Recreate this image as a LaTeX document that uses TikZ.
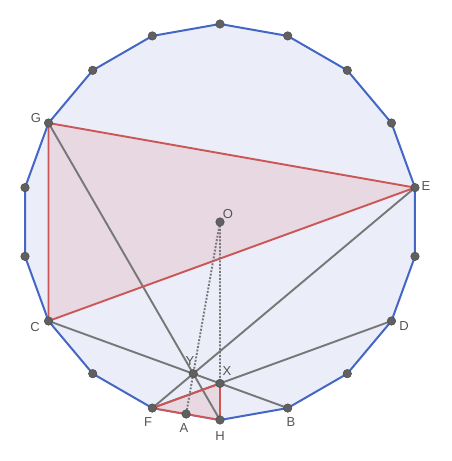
\documentclass[tikz,border=0pt]{standalone}
\usepackage{fontspec}
\setmainfont{Liberation Sans}
\usetikzlibrary{calc,intersections}
\definecolor{polyfill}{HTML}{EBEDF8}
\definecolor{polyedge}{HTML}{4466C4}
\definecolor{redline}{HTML}{CC5555}
\definecolor{redfill}{HTML}{E8D8E2}
\definecolor{grayline}{HTML}{777777}
\definecolor{ptfill}{HTML}{606060}
\definecolor{lbl}{HTML}{555555}
\tikzset{
  pt/.style={circle,fill=ptfill,draw=black!70,line width=0.5pt,inner sep=0pt,minimum size=8.5pt},
  lab/.style={text=lbl,font=\fontsize{13}{15}\selectfont,inner sep=0pt},
  edge/.style={draw=polyedge,line width=2pt,line join=round},
  redside/.style={draw=redline,line width=1.9pt,line join=round},
  grayseg/.style={draw=grayline,line width=1.9pt},
  dotseg/.style={draw=grayline,line width=1.9pt,dash pattern=on 1.9pt off 1.6pt}
}
\begin{document}
\begin{tikzpicture}[x=1pt,y=1pt]
\useasboundingbox (0,0) rectangle (451,461);
\coordinate (O) at (220,239);
\foreach \k in {0,...,17}{
  \coordinate (P\k) at ($(O)+({90+20*\k}:198)$);
}
% named vertices
\coordinate (G) at (P3);
\coordinate (C) at (P6);
\coordinate (F) at (P8);
\coordinate (H) at (P9);
\coordinate (B) at (P10);
\coordinate (D) at (P12);
\coordinate (E) at (P14);
\coordinate (A) at ($(F)!0.5!(H)$);
\coordinate (X) at (intersection of F--D and O--H);
\coordinate (Y) at (intersection of G--H and C--B);
% polygon
\path[fill=polyfill] (P0) \foreach \k in {1,...,17}{ -- (P\k)} -- cycle;
\path[edge] (P0) \foreach \k in {1,...,17}{ -- (P\k)} -- cycle;
% red triangles
\path[fill=redfill] (G) -- (E) -- (C) -- cycle;
\path[fill=redfill] (F) -- (X) -- (H) -- cycle;
% gray lines
\path[grayseg] (G) -- (H);
\path[grayseg] (C) -- (B);
\path[grayseg] (F) -- (E);
\path[grayseg] (F) -- (D);
% red sides
\path[redside] (G) -- (E) -- (C) -- cycle;
\path[redside] (F) -- (X) -- (H) -- cycle;
% dotted
\path[dotseg] (O) -- (A);
\path[dotseg] (O) -- (X);
% points
\foreach \k in {0,...,17}{ \node[pt] (V\k) at (P\k) {}; }
\node[pt] (nO) at (O) {};
\node[pt] (nA) at (A) {};
\node[pt] (nX) at (X) {};
\node[pt] (nY) at (Y) {};
% labels
\node[lab] (lG) at (36,343) {G};
\node[lab] (lE) at (426,275) {E};
\node[lab] (lC) at (35,134) {C};
\node[lab] (lD) at (404,135) {D};
\node[lab] (lB) at (291,39) {B};
\node[lab] (lH) at (220,25) {H};
\node[lab] (lF) at (148,39) {F};
\node[lab] (lA) at (184,33) {A};
\node[lab] (lY) at (190,100) {Y};
\node[lab] (lX) at (227,90) {X};
\node[lab] (lO) at (228,247) {O};
\end{tikzpicture}
\end{document}
